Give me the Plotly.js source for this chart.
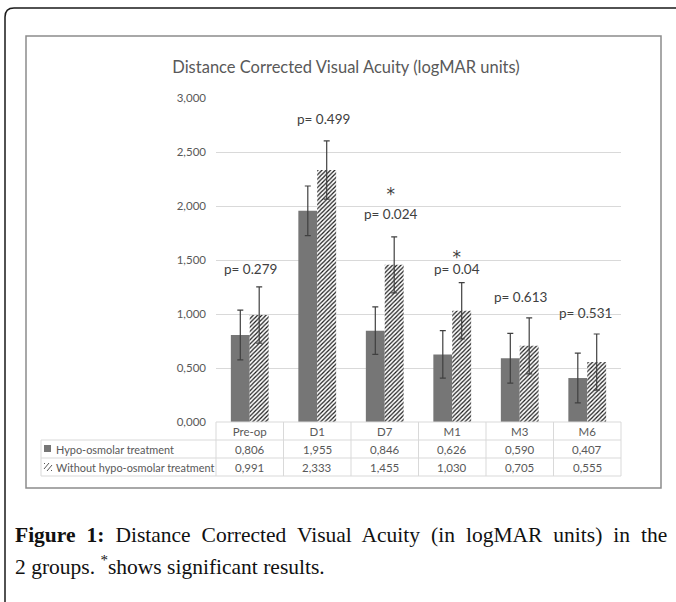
<!DOCTYPE html>
<html>
<head>
<meta charset="utf-8">
<script src="https://cdn.plot.ly/plotly-3.0.1.min.js"></script>
<style>html,body{margin:0;padding:0;background:#fff;}#chart{width:676px;height:602px;}</style>
</head>
<body>
<div id="chart"></div>
<script>
// ---- data ----
const categories = ['Pre-op', 'D1', 'D7', 'M1', 'M3', 'M6'];
const seriesNames = ['Hypo-osmolar treatment', 'Without hypo-osmolar treatment'];
const hypoValues = [0.806, 1.955, 0.846, 0.626, 0.590, 0.407];
const withoutValues = [0.991, 2.333, 1.455, 1.030, 0.705, 0.555];
const hypoErr = [0.23, 0.23, 0.22, 0.22, 0.23, 0.23];
const withoutErr = [0.26, 0.27, 0.26, 0.26, 0.26, 0.26];
const pLabels = ['p= 0.279', 'p= 0.499', 'p= 0.024', 'p= 0.04', 'p= 0.613', 'p= 0.531'];
const significant = [false, false, true, true, false, false];
const yTickValues = [0, 0.5, 1, 1.5, 2, 2.5, 3];
const chartTitle = 'Distance Corrected Visual Acuity (logMAR units)';
const captionLine1 = '<b>Figure 1:</b> Distance Corrected Visual Acuity (in logMAR units) in the';
const captionLine2 = '2 groups. <sup>*</sup>shows significant results.';

// ---- layout helpers (pixel -> paper) ----
const W = 676, H = 602;
const M = {l: 216, r: 55, t: 98, b: 180};
const PW = W - M.l - M.r, PH = H - M.t - M.b;
const X = px => (px - M.l) / PW;
const Y = py => (H - M.b - py) / PH;

const FONT = 'Lato, "Open Sans", sans-serif';
const SERIF = '"Liberation Serif", "Times New Roman", serif';
const TXT = '#595959';
const GRID = '#d9d9d9';

// p-label placement (pixels above the top of the taller error bar)
const pRaise = [18, 22, 22, 13, 21, 21];
const pShiftX = [1, 6, 6, 5, 1.5, -2];
// base font size that sets the gap between the star line and the p line
const starGapFont = [0, 0, 14.6, 8.8, 0, 0];

const traces = [
  {
    type: 'bar', name: seriesNames[0], x: categories, y: hypoValues,
    marker: {color: '#767676', line: {width: 0}},
    error_y: {type: 'data', array: hypoErr, visible: true, color: '#404040', thickness: 1.2, width: 3}
  },
  {
    type: 'bar', name: seriesNames[1], x: categories, y: withoutValues,
    marker: {color: '#ffffff', line: {width: 0},
      pattern: {shape: '/', fgcolor: '#1a1a1a', bgcolor: '#ffffff', size: 3, solidity: 0.4}},
    error_y: {type: 'data', array: withoutErr, visible: true, color: '#404040', thickness: 1.2, width: 3}
  }
];

const shapes = [];
const annotations = [];
const line = (x0, y0, x1, y1, color, width) => shapes.push({type: 'line', xref: 'paper', yref: 'paper', x0, y0, x1, y1, line: {color, width}});

// outer figure frame (rounded top-left corner)
shapes.push({type: 'path', xref: 'paper', yref: 'paper',
  path: `M ${X(5)},${Y(610)} L ${X(5)},${Y(17)} Q ${X(5)},${Y(8)} ${X(14)},${Y(8)} L ${X(690)},${Y(8)}`,
  line: {color: '#1a1a1a', width: 1.5}});
// inner chart frame
shapes.push({type: 'rect', xref: 'paper', yref: 'paper', x0: X(26), x1: X(661), y0: Y(488), y1: Y(36),
  line: {color: '#8c8c8c', width: 1.5}});

// data table grid
const rowH = 18 / PH;
const leftX = X(41);
line(0, 0, 1, 0, GRID, 1);
line(leftX, -rowH, 1, -rowH, GRID, 1);
line(leftX, -2 * rowH, 1, -2 * rowH, GRID, 1);
line(leftX, -3 * rowH, 1, -3 * rowH, GRID, 1);
line(leftX, -rowH, leftX, -3 * rowH, GRID, 1);
for (let k = 0; k <= categories.length; k++) {
  line(k / categories.length, 0, k / categories.length, -3 * rowH, GRID, 1);
}

const fmt = v => v.toFixed(3).replace('.', ',');
[hypoValues, withoutValues].forEach((vals, r) => {
  vals.forEach((v, i) => {
    annotations.push({xref: 'x', yref: 'paper', x: categories[i], y: -(r + 1.5) * rowH,
      text: fmt(v), showarrow: false, xanchor: 'center', yanchor: 'middle',
      font: {family: FONT, size: 11.5, color: TXT}});
  });
  annotations.push({xref: 'paper', yref: 'paper', x: X(54), y: -(r + 1.5) * rowH,
    text: seriesNames[r], showarrow: false, xanchor: 'left', yanchor: 'middle',
    font: {family: FONT, size: 10.9, color: TXT}});
});
// legend keys inside the table
shapes.push({type: 'rect', xref: 'paper', yref: 'paper', x0: X(44), x1: X(51), y0: Y(452), y1: Y(445),
  fillcolor: '#767676', line: {width: 0}});
shapes.push({type: 'path', xref: 'paper', yref: 'paper',
  path: `M ${X(44)},${Y(469)} L ${X(49)},${Y(463)} M ${X(47)},${Y(471)} L ${X(52)},${Y(465)} M ${X(44)},${Y(464)} L ${X(45)},${Y(463)} M ${X(51)},${Y(471)} L ${X(52)},${Y(470)}`,
  line: {color: '#595959', width: 1}});

// p-value labels (with significance star stacked above when significant)
categories.forEach((c, i) => {
  const top = Math.max(hypoValues[i] + hypoErr[i], withoutValues[i] + withoutErr[i]);
  if (significant[i]) {
    annotations.push({xref: 'x', yref: 'y', x: c, y: top, yshift: pRaise[i] - 8, xshift: pShiftX[i], align: 'center',
      text: '<span style="font-size:17px;font-family:\'DejaVu Sans\'">*</span><br><span style="font-size:13.5px">' + pLabels[i] + '</span>',
      showarrow: false, xanchor: 'center', yanchor: 'bottom', borderpad: 0,
      font: {family: FONT, size: starGapFont[i], color: '#404040'}});
  } else {
    annotations.push({xref: 'x', yref: 'y', x: c, y: top, yshift: pRaise[i], xshift: pShiftX[i],
      text: pLabels[i], showarrow: false, xanchor: 'center', yanchor: 'middle', borderpad: 0,
      font: {family: FONT, size: 13.5, color: '#404040'}});
  }
});

// caption (first line justified to the full width, as in the source)
annotations.push({xref: 'paper', yref: 'paper', x: X(13), y: Y(535), xanchor: 'left', yanchor: 'middle', align: 'left',
  text: '<span style="word-spacing:5.6px">' + captionLine1 + '</span>', showarrow: false,
  font: {family: SERIF, size: 21.5, color: '#111111'}});
annotations.push({xref: 'paper', yref: 'paper', x: X(13), y: Y(565), xanchor: 'left', yanchor: 'middle', align: 'left',
  text: captionLine2, showarrow: false,
  font: {family: SERIF, size: 21.5, color: '#111111'}});

const layout = {
  width: W, height: H,
  margin: M,
  paper_bgcolor: '#ffffff', plot_bgcolor: '#ffffff',
  separators: ', ',
  showlegend: false,
  barmode: 'group', bargap: 0.44, bargroupgap: 0,
  title: {text: chartTitle, x: 346 / W, xanchor: 'center', y: 1 - 67 / H, yanchor: 'middle',
    font: {family: FONT, size: 16.5, color: TXT}},
  xaxis: {type: 'category', range: [-0.5, categories.length - 0.5], showgrid: false, showline: false,
    zeroline: false, ticks: '', tickfont: {family: FONT, size: 11.5, color: TXT}, ticklabelstandoff: 1},
  yaxis: {range: [0, 3], tickvals: yTickValues, tickformat: '.3f', showgrid: true, gridcolor: GRID, gridwidth: 1,
    zeroline: false, showline: false, ticks: '', ticklabelstandoff: 9,
    tickfont: {family: FONT, size: 11.5, color: TXT}},
  shapes, annotations
};

Plotly.newPlot('chart', traces, layout, {displayModeBar: false, staticPlot: true});
</script>
</body>
</html>
